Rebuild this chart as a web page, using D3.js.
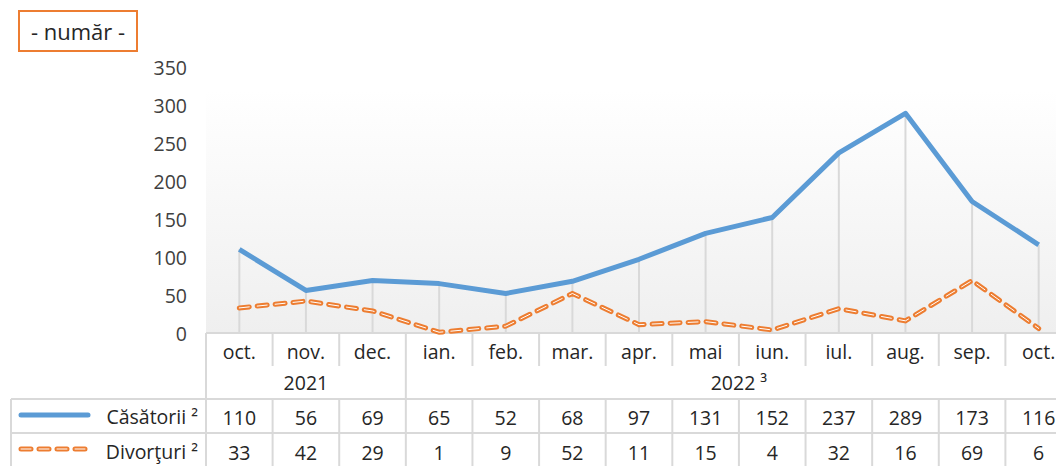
<!DOCTYPE html>
<html>
<head>
<meta charset="utf-8">
<script src="https://cdn.jsdelivr.net/npm/d3@7"></script>
<style>
  body { margin: 0; background: #fff; }
  svg { display: block; font-family: "Open Sans", sans-serif; }
</style>
</head>
<body>
<svg id="mysvg" width="1056" height="466"></svg>
<script>
// data
var months = ["oct.", "nov.", "dec.", "ian.", "feb.", "mar.", "apr.", "mai", "iun.", "iul.", "aug.", "sep.", "oct."];
var years = [
  { label: "2021", span: 3 },
  { label: "2022 \u00B3", span: 10 }
];
var casatorii = [110, 56, 69, 65, 52, 68, 97, 131, 152, 237, 289, 173, 116];
var divorturi = [33, 42, 29, 1, 9, 52, 11, 15, 4, 32, 16, 69, 6];
var yTicks = [0, 50, 100, 150, 200, 250, 300, 350];
var seriesNames = ["C\u0103s\u0103torii \u00B2", "Divor\u0163uri \u00B2"];

var blue = "#5B9BD5";
var orange = "#ED7D31";
var gridGrey = "#d9d9d9";

var svg = d3.select("#mysvg");

// table geometry (last column runs past the right edge, like the original)
var left = 206, right = 1072;
var axisY = 333;
var rowMonth = 366, rowYear = 399, rowC = 433, rowD = 468;

var x = d3.scaleBand()
    .domain(d3.range(months.length))
    .range([left, right]);

var y = d3.scaleLinear()
    .domain([0, 350])
    .range([axisY, 67]);

function cx(i) { return x(i) + x.bandwidth() / 2; }

// plot background gradient
var defs = svg.append("defs");
var grad = defs.append("linearGradient")
    .attr("id", "bg")
    .attr("x1", 0).attr("y1", 0).attr("x2", 0).attr("y2", 1);
grad.append("stop").attr("offset", "0%").attr("stop-color", "#ffffff");
grad.append("stop").attr("offset", "100%").attr("stop-color", "#efefef");

svg.append("rect")
    .attr("x", left)
    .attr("y", 90)
    .attr("width", right - left)
    .attr("height", axisY - 90)
    .attr("fill", "url(#bg)");

// title box
svg.append("rect")
    .attr("x", 19).attr("y", 11)
    .attr("width", 118).attr("height", 40)
    .attr("fill", "#fff")
    .attr("stroke", orange)
    .attr("stroke-width", 2);
svg.append("text")
    .attr("x", 78).attr("y", 31)
    .attr("text-anchor", "middle")
    .attr("dominant-baseline", "central")
    .attr("font-size", 22)
    .attr("fill", "#262626")
    .text("- num\u0103r -");

// y tick labels
svg.append("g")
    .selectAll("text")
    .data(yTicks)
    .enter()
    .append("text")
    .attr("x", 187)
    .attr("y", function(d) { return y(d); })
    .attr("text-anchor", "end")
    .attr("dominant-baseline", "central")
    .attr("font-size", 19.5)
    .attr("fill", "#404040")
    .text(function(d) { return d; });

// drop lines from the higher point to the axis
svg.append("g")
    .selectAll("line")
    .data(months)
    .enter()
    .append("line")
    .attr("x1", function(d, i) { return cx(i); })
    .attr("x2", function(d, i) { return cx(i); })
    .attr("y1", function(d, i) { return y(Math.max(casatorii[i], divorturi[i])); })
    .attr("y2", axisY)
    .attr("stroke", gridGrey)
    .attr("stroke-width", 2);

// table grid
var grid = svg.append("g")
    .attr("stroke", gridGrey)
    .attr("stroke-width", 2);

// horizontal lines
grid.append("line").attr("x1", left).attr("x2", right).attr("y1", axisY).attr("y2", axisY);
grid.append("line").attr("x1", 11).attr("x2", right).attr("y1", rowYear).attr("y2", rowYear);
grid.append("line").attr("x1", 11).attr("x2", right).attr("y1", rowC).attr("y2", rowC);
grid.append("line").attr("x1", 11).attr("x2", 11).attr("y1", rowYear).attr("y2", rowD);
grid.append("line").attr("x1", left).attr("x2", left).attr("y1", axisY).attr("y2", rowD);

// month separators (only down through month row)
grid.selectAll(".msep")
    .data(d3.range(1, months.length))
    .enter()
    .append("line")
    .attr("class", "msep")
    .attr("x1", function(d) { return x(d); })
    .attr("x2", function(d) { return x(d); })
    .attr("y1", axisY)
    .attr("y2", rowMonth);

// year separators through year row
var yearStarts = [];
var acc = 0;
years.forEach(function(yr) { yearStarts.push(acc); acc += yr.span; });
grid.selectAll(".ysep")
    .data(yearStarts.slice(1))
    .enter()
    .append("line")
    .attr("class", "ysep")
    .attr("x1", function(d) { return x(d); })
    .attr("x2", function(d) { return x(d); })
    .attr("y1", rowMonth)
    .attr("y2", rowYear);

// value row separators
grid.selectAll(".vsep")
    .data(d3.range(1, months.length))
    .enter()
    .append("line")
    .attr("class", "vsep")
    .attr("x1", function(d) { return x(d); })
    .attr("x2", function(d) { return x(d); })
    .attr("y1", rowYear)
    .attr("y2", rowD);

// month labels
var txt = svg.append("g")
    .attr("font-size", 19.5)
    .attr("fill", "#262626")
    .attr("text-anchor", "middle")
    .attr("dominant-baseline", "central");

txt.selectAll(".month")
    .data(months)
    .enter()
    .append("text")
    .attr("class", "month")
    .attr("x", function(d, i) { return cx(i); })
    .attr("y", 351)
    .text(function(d) { return d; });

// year labels
txt.selectAll(".year")
    .data(years)
    .enter()
    .append("text")
    .attr("class", "year")
    .attr("x", function(d, i) {
        var a = x(yearStarts[i]);
        return a + d.span * x.bandwidth() / 2;
    })
    .attr("y", 382)
    .text(function(d) { return d.label; });

// value rows
txt.selectAll(".vc")
    .data(casatorii)
    .enter()
    .append("text")
    .attr("class", "vc")
    .attr("x", function(d, i) { return cx(i); })
    .attr("y", 417)
    .text(function(d) { return d; });

txt.selectAll(".vd")
    .data(divorturi)
    .enter()
    .append("text")
    .attr("class", "vd")
    .attr("x", function(d, i) { return cx(i); })
    .attr("y", 452)
    .text(function(d) { return d; });

// legend labels
txt.append("text")
    .attr("x", 198).attr("y", 416)
    .attr("text-anchor", "end")
    .text(seriesNames[0]);
txt.append("text")
    .attr("x", 198).attr("y", 451)
    .attr("text-anchor", "end")
    .text(seriesNames[1]);

// legend keys
svg.append("line")
    .attr("x1", 21).attr("x2", 88)
    .attr("y1", 415).attr("y2", 415)
    .attr("stroke", blue)
    .attr("stroke-width", 5)
    .attr("stroke-linecap", "round");
svg.append("line")
    .attr("x1", 21).attr("x2", 90)
    .attr("y1", 449).attr("y2", 449)
    .attr("stroke", orange)
    .attr("stroke-width", 5)
    .attr("stroke-linecap", "round")
    .attr("stroke-dasharray", "10 8");
svg.append("line")
    .attr("x1", 21).attr("x2", 90)
    .attr("y1", 449).attr("y2", 449)
    .attr("stroke", "#fff")
    .attr("stroke-width", 1)
    .attr("stroke-linecap", "round")
    .attr("stroke-dasharray", "10 8");

// lines
var line = d3.line()
    .x(function(d, i) { return cx(i); })
    .y(function(d) { return y(d); });

svg.append("path")
    .datum(casatorii)
    .attr("d", line)
    .attr("fill", "none")
    .attr("stroke", blue)
    .attr("stroke-width", 5)
    .attr("stroke-linejoin", "round");

// divorces: orange dash with thin white core
svg.append("path")
    .datum(divorturi)
    .attr("d", line)
    .attr("fill", "none")
    .attr("stroke", orange)
    .attr("stroke-width", 5)
    .attr("stroke-linecap", "round")
    .attr("stroke-dasharray", "10 8");
svg.append("path")
    .datum(divorturi)
    .attr("d", line)
    .attr("fill", "none")
    .attr("stroke", "#fff")
    .attr("stroke-width", 1)
    .attr("stroke-linecap", "round")
    .attr("stroke-dasharray", "10 8");
</script>
</body>
</html>
